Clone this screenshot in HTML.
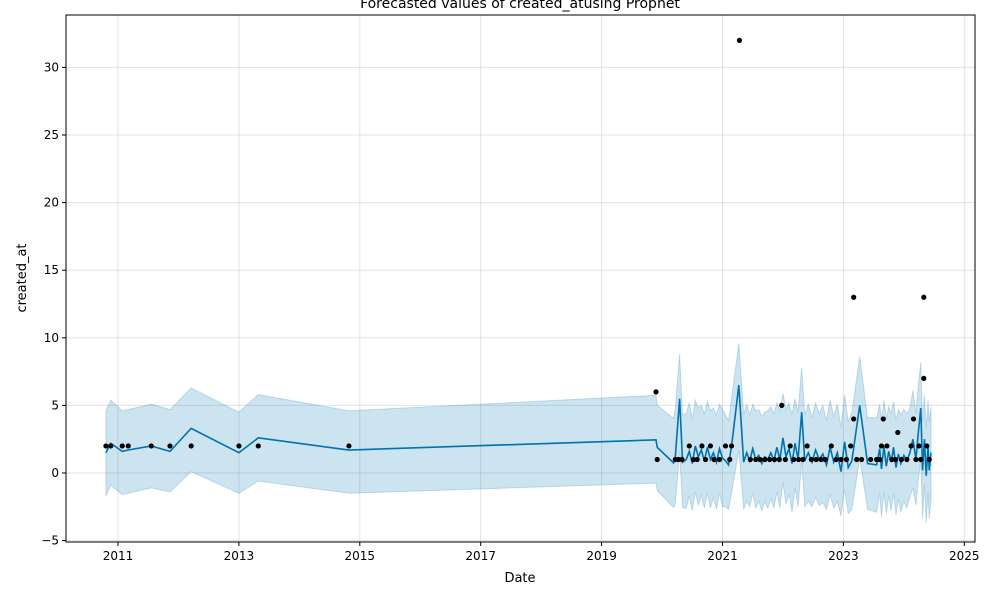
<!DOCTYPE html>
<html><head><meta charset="utf-8"><style>
body{margin:0;background:#fff;width:1000px;height:600px;overflow:hidden}
svg{display:block;font-family:"DejaVu Sans","Liberation Sans",sans-serif}
</style></head><body>
<svg id="chart" width="1000" height="600">
<text x="520" y="8" text-anchor="middle" font-size="14">Forecasted values of created_atusing Prophet</text>
<text x="520" y="582" text-anchor="middle" font-size="13">Date</text>
<text x="0" y="0" transform="translate(26,278) rotate(-90)" text-anchor="middle" font-size="13">created_at</text>
</svg>
<script>
const fcDates=[2010.80,2010.88,2011.07,2011.17,2011.55,2011.86,2012.21,2013.00,2013.32,2014.82,2019.90,2019.92,2020.19,2020.22,2020.29,2020.34,2020.40,2020.45,2020.50,2020.55,2020.60,2020.65,2020.70,2020.75,2020.80,2020.85,2020.90,2020.95,2021.00,2021.05,2021.10,2021.15,2021.27,2021.35,2021.40,2021.45,2021.50,2021.55,2021.60,2021.65,2021.70,2021.75,2021.80,2021.85,2021.90,2021.95,2022.00,2022.05,2022.10,2022.15,2022.20,2022.25,2022.31,2022.36,2022.42,2022.48,2022.54,2022.60,2022.66,2022.72,2022.78,2022.84,2022.90,2022.96,2023.02,2023.08,2023.14,2023.27,2023.40,2023.55,2023.60,2023.63,2023.67,2023.71,2023.75,2023.79,2023.83,2023.87,2023.91,2023.95,2024.00,2024.05,2024.10,2024.15,2024.20,2024.24,2024.28,2024.31,2024.34,2024.37,2024.40,2024.42,2024.45];
const yhat=[1.5,2.2,1.6,1.7,2.0,1.6,3.3,1.5,2.6,1.7,2.45,1.9,0.75,1.2,5.5,0.8,1.0,1.6,0.7,2.0,1.2,1.7,0.9,1.9,1.0,1.5,0.8,1.8,1.1,0.9,0.6,2.0,6.5,0.8,1.5,0.9,1.8,1.0,1.3,0.7,1.2,1.0,1.5,0.9,1.9,1.0,2.6,1.2,1.8,0.7,2.2,1.0,4.5,0.9,1.5,0.8,1.7,1.0,1.4,0.6,1.9,0.8,1.5,0.1,2.3,0.4,0.9,5.0,0.7,0.6,1.8,0.3,2.0,0.5,1.6,0.8,1.9,0.4,1.4,0.7,1.3,0.9,1.5,2.5,1.0,3.0,4.8,0.2,2.5,-0.2,2.0,0.2,1.5];
const upperHalf=[3.1,3.2,3.0,3.0,3.1,3.1,3.0,3.0,3.2,2.9,3.3,3.1,3.3,3.6,3.3,3.5,3.4,3.6,3.3,3.4,3.6,3.3,3.5,3.4,3.6,3.3,3.5,3.3,3.6,3.4,3.3,3.5,3.1,3.5,3.6,3.4,3.3,3.6,3.4,3.5,3.3,3.6,3.4,3.5,3.3,3.6,3.3,3.5,3.4,3.6,3.3,3.5,3.3,3.4,3.6,3.3,3.5,3.4,3.6,3.3,3.5,3.4,3.6,3.3,3.5,3.4,3.6,3.6,3.4,3.5,3.3,3.6,3.4,3.5,3.3,3.6,3.4,3.5,3.3,3.6,3.4,3.5,3.3,3.6,3.4,3.5,3.4,3.6,3.3,3.5,3.4,3.6,3.4];
const lowerHalf=[3.2,3.1,3.2,3.2,3.1,3.0,3.2,3.0,3.2,3.2,3.2,3.2,3.3,3.5,3.9,3.4,3.6,3.3,3.5,3.4,3.6,3.3,3.5,3.4,3.6,3.3,3.5,3.3,3.6,3.4,3.3,3.5,4.8,3.5,3.6,3.4,3.3,3.6,3.4,3.5,3.3,3.6,3.4,3.5,3.3,3.6,3.3,3.5,3.4,3.6,3.3,3.5,3.6,3.4,3.6,3.3,3.5,3.4,3.6,3.3,3.5,3.4,3.6,3.3,3.5,3.4,3.6,3.9,3.4,3.5,3.3,3.6,3.4,3.5,3.3,3.6,3.4,3.5,3.3,3.6,3.4,3.5,3.3,3.6,3.4,3.5,3.9,3.6,3.3,3.5,3.4,3.6,3.4];
const obsDates=[2010.80,2010.88,2011.07,2011.17,2011.55,2011.86,2012.21,2013.00,2013.32,2014.82,2019.90,2019.92,2020.22,2020.27,2020.33,2020.45,2020.52,2020.58,2020.66,2020.72,2020.80,2020.86,2020.95,2021.05,2021.12,2021.15,2021.28,2021.46,2021.55,2021.62,2021.70,2021.78,2021.86,2021.94,2021.98,2022.04,2022.12,2022.18,2022.26,2022.33,2022.40,2022.47,2022.55,2022.63,2022.70,2022.80,2022.88,2022.96,2023.05,2023.12,2023.17,2023.17,2023.22,2023.30,2023.45,2023.55,2023.60,2023.63,2023.66,2023.72,2023.80,2023.86,2023.90,2023.96,2024.05,2024.12,2024.16,2024.20,2024.25,2024.28,2024.33,2024.33,2024.38,2024.42];
const obsValues=[2,2,2,2,2,2,2,2,2,2,6,1,1,1,1,2,1,1,2,1,2,1,1,2,1,2,32,1,1,1,1,1,1,1,5,1,2,1,1,1,2,1,1,1,1,2,1,1,1,2,13,4,1,1,1,1,1,2,4,2,1,1,3,1,1,2,4,1,2,1,13,7,2,1];
const xTicks=[2011,2013,2015,2017,2019,2021,2023,2025];
const yTicks=[-5,0,5,10,15,20,25,30];

const NS="http://www.w3.org/2000/svg";
const svg=document.getElementById('chart');
const L=66,R=975,T=15,B=542;
const xs=d=>118+(d-2011)*60.45;
const ys=v=>473-v*13.52;
function mk(tag,attrs,parent){const e=document.createElementNS(NS,tag);for(const k in attrs)e.setAttribute(k,attrs[k]);(parent||svg).appendChild(e);return e;}
const gGrid=mk('g',{});


xTicks.forEach(t=>{
 const x=xs(t);
 const gl=mk('line',{x1:x,x2:x,y1:T,y2:B,stroke:'#b0b0b0','stroke-opacity':0.35,'stroke-width':1},gGrid);
 
 
 const tk=mk('line',{x1:x,x2:x,y1:B,y2:B+4,stroke:'#000'});
 
 
 const tx=mk('text',{x:x,y:B+18,'text-anchor':'middle','font-size':12});
 tx.textContent=t;
 
 
});
yTicks.forEach(t=>{
 const y=ys(t);
 const gl=mk('line',{x1:L,x2:R,y1:y,y2:y,stroke:'#b0b0b0','stroke-opacity':0.35,'stroke-width':1},gGrid);
 
 
 const tk=mk('line',{x1:L-4,x2:L,y1:y,y2:y,stroke:'#000'});
 
 
 const tx=mk('text',{x:L-7,y:y+4,'text-anchor':'end','font-size':12});
 tx.textContent=(t<0?'\u2212'+(-t):t);
 
 
});
let up=fcDates.map((d,i)=>xs(d)+','+ys(yhat[i]+upperHalf[i]));
let lo=fcDates.map((d,i)=>xs(d)+','+ys(yhat[i]-lowerHalf[i])).reverse();
const band=mk('polygon',{points:up.concat(lo).join(' '),fill:'#0072B2','fill-opacity':0.2,stroke:'#0072B2','stroke-opacity':0.2,'stroke-width':1});


const line=mk('polyline',{points:fcDates.map((d,i)=>xs(d)+','+ys(yhat[i])).join(' '),fill:'none',stroke:'#0072B2','stroke-width':1.6});


obsDates.forEach((d,i)=>{
 const c=mk('circle',{cx:xs(d),cy:ys(obsValues[i]),r:2.6,fill:'#000'});
 
 
});
const frame=mk('rect',{x:L,y:T,width:R-L,height:B-T,fill:'none',stroke:'#000','stroke-width':1});


</script>
</body></html>
